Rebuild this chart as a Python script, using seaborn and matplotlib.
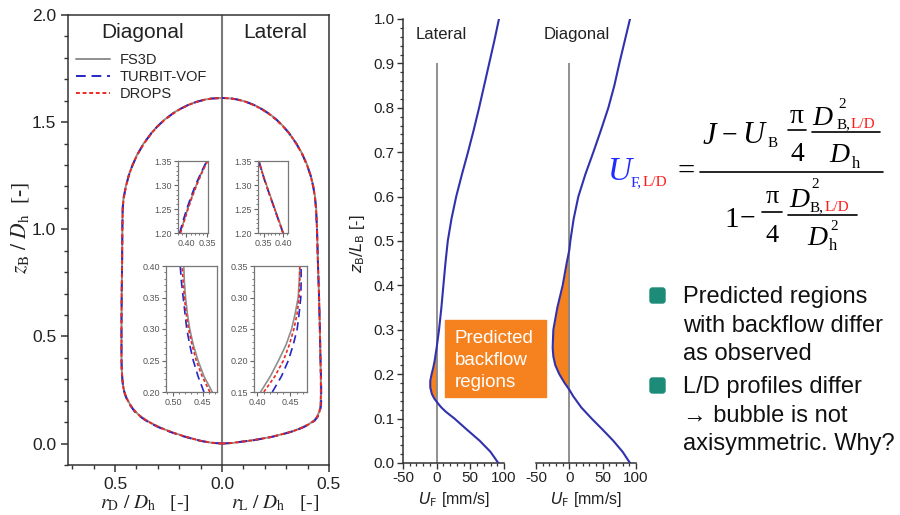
import matplotlib
matplotlib.use("Agg")
import numpy as np
import pandas as pd
import matplotlib.pyplot as plt
import matplotlib.transforms as mtransforms
from matplotlib.patches import Rectangle, FancyBboxPatch
from matplotlib.lines import Line2D
from matplotlib.ticker import MultipleLocator, FixedLocator, FuncFormatter
import seaborn as sns

# ---------------- data ----------------
model_names = ["FS3D", "TURBIT-VOF", "DROPS"]

# bubble contour, diagonal plane: z_B/D_h and r_D/D_h
diag_z = [0.000, 0.004, 0.012, 0.022, 0.035, 0.050, 0.065, 0.080, 0.095, 0.110,
          0.130, 0.150, 0.175, 0.200, 0.230, 0.260, 0.300, 0.350, 0.400, 0.550,
          0.700, 0.850, 1.000, 1.100, 1.150, 1.200, 1.250, 1.300, 1.350, 1.400,
          1.450, 1.480, 1.510, 1.540, 1.560, 1.580, 1.595, 1.605, 1.610, 1.613]
diag_r_fs3d = [0.000, 0.050, 0.095, 0.134, 0.180, 0.225, 0.266, 0.300, 0.330, 0.356,
               0.385, 0.406, 0.425, 0.440, 0.453, 0.461, 0.466, 0.469, 0.470, 0.470,
               0.469, 0.467, 0.466, 0.465, 0.460, 0.450, 0.437, 0.419, 0.396, 0.367,
               0.330, 0.303, 0.271, 0.232, 0.200, 0.160, 0.120, 0.082, 0.052, 0.000]
diag_r_turbit = [0.000, 0.052, 0.098, 0.138, 0.185, 0.230, 0.271, 0.305, 0.335, 0.360,
                 0.388, 0.409, 0.427, 0.442, 0.454, 0.462, 0.466, 0.469, 0.470, 0.470,
                 0.469, 0.467, 0.466, 0.464, 0.459, 0.449, 0.436, 0.418, 0.395, 0.366,
                 0.329, 0.302, 0.270, 0.230, 0.198, 0.158, 0.118, 0.080, 0.050, 0.000]
diag_r_drops = [0.000, 0.050, 0.096, 0.135, 0.181, 0.226, 0.267, 0.301, 0.331, 0.357,
                0.385, 0.406, 0.425, 0.440, 0.453, 0.461, 0.466, 0.469, 0.470, 0.470,
                0.469, 0.467, 0.466, 0.464, 0.459, 0.449, 0.436, 0.418, 0.395, 0.365,
                0.328, 0.301, 0.269, 0.229, 0.197, 0.157, 0.117, 0.079, 0.049, 0.000]

# bubble contour, lateral plane: z_B/D_h and r_L/D_h
lat_z = [0.000, 0.003, 0.008, 0.015, 0.022, 0.030, 0.040, 0.050, 0.061, 0.075,
         0.090, 0.107, 0.125, 0.150, 0.180, 0.220, 0.300, 0.400, 0.550, 0.700,
         0.850, 1.000, 1.100, 1.150, 1.200, 1.250, 1.300, 1.350, 1.400, 1.450,
         1.480, 1.510, 1.540, 1.560, 1.580, 1.595, 1.605, 1.610, 1.613]
lat_r_fs3d = [0.000, 0.050, 0.084, 0.140, 0.180, 0.224, 0.266, 0.303, 0.340, 0.374,
              0.405, 0.430, 0.444, 0.455, 0.460, 0.462, 0.462, 0.460, 0.457, 0.453,
              0.448, 0.444, 0.440, 0.435, 0.427, 0.415, 0.398, 0.376, 0.348, 0.313,
              0.287, 0.257, 0.220, 0.189, 0.151, 0.113, 0.076, 0.048, 0.000]
lat_r_turbit = [0.000, 0.052, 0.087, 0.144, 0.184, 0.228, 0.270, 0.307, 0.344, 0.378,
                0.408, 0.433, 0.447, 0.458, 0.463, 0.464, 0.463, 0.460, 0.457, 0.453,
                0.448, 0.444, 0.439, 0.434, 0.426, 0.414, 0.397, 0.375, 0.347, 0.312,
                0.286, 0.256, 0.218, 0.187, 0.149, 0.111, 0.074, 0.046, 0.000]
lat_r_drops = [0.000, 0.050, 0.085, 0.141, 0.181, 0.225, 0.267, 0.304, 0.341, 0.375,
               0.406, 0.431, 0.445, 0.456, 0.461, 0.462, 0.462, 0.460, 0.457, 0.453,
               0.448, 0.444, 0.439, 0.434, 0.426, 0.414, 0.397, 0.375, 0.347, 0.312,
               0.285, 0.255, 0.217, 0.186, 0.148, 0.110, 0.073, 0.045, 0.000]

# zoomed insets (nose region and tail region)
nose_z = [1.200, 1.225, 1.250, 1.275, 1.300, 1.325, 1.350]
nose_diag = {"FS3D": [0.415, 0.406, 0.397, 0.387, 0.376, 0.364, 0.350],
             "TURBIT-VOF": [0.416, 0.408, 0.399, 0.389, 0.378, 0.365, 0.351],
             "DROPS": [0.414, 0.405, 0.396, 0.386, 0.375, 0.363, 0.349]}
nose_lat = {"FS3D": [0.401, 0.390, 0.379, 0.368, 0.357, 0.347, 0.338],
            "TURBIT-VOF": [0.400, 0.389, 0.378, 0.367, 0.356, 0.346, 0.337],
            "DROPS": [0.400, 0.389, 0.378, 0.367, 0.357, 0.346, 0.337]}
tail_diag_z = [0.200, 0.225, 0.250, 0.275, 0.300, 0.325, 0.350, 0.375, 0.400]
tail_diag = {"FS3D": [0.434, 0.448, 0.458, 0.466, 0.472, 0.476, 0.479, 0.481, 0.482],
             "TURBIT-VOF": [0.448, 0.458, 0.466, 0.472, 0.477, 0.480, 0.483, 0.486, 0.488],
             "DROPS": [0.438, 0.451, 0.461, 0.468, 0.474, 0.478, 0.481, 0.483, 0.485]}
tail_lat_z = [0.150, 0.175, 0.200, 0.225, 0.250, 0.275, 0.300, 0.325, 0.350]
tail_lat = {"FS3D": [0.405, 0.420, 0.4325, 0.444, 0.4525, 0.458, 0.4625, 0.464, 0.465],
            "TURBIT-VOF": [0.423, 0.437, 0.4475, 0.455, 0.461, 0.464, 0.4665, 0.467, 0.467],
            "DROPS": [0.410, 0.427, 0.440, 0.449, 0.456, 0.461, 0.464, 0.465, 0.465]}

# film velocity profiles: z_B/L_B and U_F [mm/s]
lat_prof_z = [0.000, 0.025, 0.050, 0.075, 0.100, 0.115, 0.125, 0.135, 0.145, 0.155,
              0.170, 0.185, 0.200, 0.215, 0.230, 0.260, 0.300, 0.350, 0.400, 0.450,
              0.500, 0.550, 0.600, 0.650, 0.700, 0.750, 0.800, 0.850, 0.900, 0.950, 1.000]
lat_prof_uf = [91.5, 80.0, 64.0, 45.0, 26.5, 14.0, 7.0, 1.5, -3.5, -7.0,
               -9.5, -9.5, -7.5, -5.0, -3.0, 0.0, 3.5, 7.0, 10.0, 13.0,
               16.5, 22.0, 29.0, 37.5, 46.5, 55.0, 63.0, 70.5, 78.0, 85.5, 92.5]
diag_prof_z = [0.000, 0.025, 0.050, 0.075, 0.100, 0.125, 0.150, 0.165, 0.180, 0.200,
               0.220, 0.240, 0.260, 0.300, 0.350, 0.400, 0.450, 0.480, 0.500, 0.550,
               0.600, 0.650, 0.700, 0.750, 0.800, 0.850, 0.900, 0.950, 1.000]
diag_prof_uf = [91.0, 80.0, 66.0, 50.0, 33.5, 18.0, 6.0, 0.0, -7.0, -15.0,
                -21.0, -24.0, -25.0, -24.0, -18.0, -10.0, -4.0, 0.0, 1.5, 6.5,
                13.5, 24.0, 36.0, 47.5, 58.5, 67.5, 75.0, 83.0, 91.0]

bullet_lines = [["Predicted regions", "with backflow differ", "as observed"],
                ["L/D profiles differ", "\u2192 bubble is not", "axisymmetric. Why?"]]

# ---------------- style ----------------
sns.set_style("ticks")
plt.rcParams["font.family"] = ["Liberation Sans", "DejaVu Sans"]
plt.rcParams["axes.unicode_minus"] = False

colors = {"FS3D": "#8f8f8f", "TURBIT-VOF": "#2626c4", "DROPS": "#ea2a22"}
styles = {"FS3D": "-", "TURBIT-VOF": (0, (5, 3)), "DROPS": (0, (2, 1.4))}
profile_color = "#3131ae"
orange = "#f5821f"
teal = "#1c8b78"
frame = "#333333"

W, H = 900, 515
fig = plt.figure(figsize=(W / 100, H / 100), dpi=100)
fig.patch.set_facecolor("white")
# transform in picture pixels, origin top left
pix = mtransforms.Affine2D().scale(0.01, -0.01).translate(0, H / 100) + fig.dpi_scale_trans


def px_axes(x0, y0, x1, y1):
    return fig.add_axes([x0 / W, 1 - y1 / H, (x1 - x0) / W, (y1 - y0) / H])


def style_spines(ax, color=frame, lw=1.1):
    for s in ax.spines.values():
        s.set_color(color)
        s.set_linewidth(lw)


# ---------------- left: bubble shape ----------------
rows = []
side_data = {"FS3D": (diag_r_fs3d, lat_r_fs3d),
             "TURBIT-VOF": (diag_r_turbit, lat_r_turbit),
             "DROPS": (diag_r_drops, lat_r_drops)}
for m in model_names:
    dr, lr = side_data[m]
    for z, r in zip(diag_z, dr):
        rows.append({"model": m, "side": "diag", "x": -r, "z": z})
    for z, r in zip(lat_z, lr):
        rows.append({"model": m, "side": "lat", "x": r, "z": z})
shape = pd.DataFrame(rows)

ax = px_axes(68, 15, 329, 465)
ax.axvline(0, color="#7a7a7a", lw=1.5, zorder=1)
for m in model_names:
    sns.lineplot(data=shape[shape["model"] == m], x="x", y="z", units="side",
                 estimator=None, sort=False, color=colors[m], linestyle=styles[m],
                 lw=1.4, ax=ax, zorder=3)
ax.set_xlim(-0.72, 0.5)
ax.set_ylim(-0.1, 2.0)
ax.xaxis.set_major_locator(FixedLocator([-0.5, 0.0, 0.5]))
ax.xaxis.set_minor_locator(MultipleLocator(0.1))
ax.yaxis.set_major_locator(MultipleLocator(0.5))
ax.yaxis.set_minor_locator(MultipleLocator(0.1))
ax.xaxis.set_major_formatter(FuncFormatter(lambda v, p: f"{abs(v):.1f}"))
ax.yaxis.set_major_formatter(FuncFormatter(lambda v, p: f"{v:.1f}"))
ax.tick_params(which="major", length=5, width=1.1, color=frame, labelsize=12.5, labelcolor="#222")
ax.tick_params(which="minor", length=3, width=1.0, color=frame)
ax.set_xlabel("")
ax.set_ylabel(r"$z_\mathrm{B}\ /\ D_\mathrm{h}$  [-]", fontsize=15.5, family="Liberation Serif",
              math_fontfamily="stix", color="#222")
ax.yaxis.set_label_coords(-0.14, 0.526)
style_spines(ax)
ax.text(143, 33, "Diagonal", transform=pix, ha="center", va="center", fontsize=15, color="#222")
ax.text(275, 33, "Lateral", transform=pix, ha="center", va="center", fontsize=15, color="#222")

handles = [Line2D([], [], color=colors[m], linestyle=styles[m], lw=1.4) for m in model_names]
ax.legend(handles, model_names, loc="upper left", bbox_to_anchor=(76, 53), bbox_transform=pix,
          frameon=False, fontsize=10.5, handlelength=2.3, handletextpad=0.7, labelspacing=0.2,
          borderaxespad=0, borderpad=0)

fig.text(145, 503, r"$r_\mathrm{D}\ /\ D_\mathrm{h}$   [-]", transform=pix, ha="center",
         va="center", fontsize=14, family="Liberation Serif", math_fontfamily="stix", color="#222")
fig.text(275, 503, r"$r_\mathrm{L}\ /\ D_\mathrm{h}$   [-]", transform=pix, ha="center",
         va="center", fontsize=14, family="Liberation Serif", math_fontfamily="stix", color="#222")


def inset(box, zs, data, xlim, ylim, xticks, yticks):
    ia = px_axes(*box)
    for m in model_names:
        sns.lineplot(x=data[m], y=zs, sort=False, estimator=None, color=colors[m],
                     linestyle=styles[m], lw=1.2, ax=ia)
    ia.set_xlim(*xlim)
    ia.set_ylim(*ylim)
    ia.xaxis.set_major_locator(FixedLocator(xticks))
    ia.yaxis.set_major_locator(FixedLocator(yticks))
    ia.xaxis.set_minor_locator(MultipleLocator(0.01))
    ia.yaxis.set_minor_locator(MultipleLocator(0.01))
    ia.xaxis.set_major_formatter(FuncFormatter(lambda v, p: f"{v:.2f}"))
    ia.yaxis.set_major_formatter(FuncFormatter(lambda v, p: f"{v:.2f}"))
    ia.tick_params(which="major", length=3, width=0.8, color="#666", labelsize=6.5,
                   labelcolor="#555", pad=1.5)
    ia.tick_params(which="minor", length=1.6, width=0.6, color="#666")
    ia.set_xlabel("")
    ia.set_ylabel("")
    style_spines(ia, "#777", 0.9)
    return ia


inset((178, 161, 208, 233), nose_z, nose_diag, (0.42, 0.348), (1.20, 1.35),
      [0.40, 0.35], [1.20, 1.25, 1.30, 1.35])
inset((258, 161, 288, 233), nose_z, nose_lat, (0.335, 0.413), (1.20, 1.35),
      [0.35, 0.40], [1.20, 1.25, 1.30, 1.35])
inset((166, 266, 217, 392), tail_diag_z, tail_diag, (0.512, 0.426), (0.20, 0.40),
      [0.50, 0.45], [0.20, 0.25, 0.30, 0.35, 0.40])
inset((254, 266, 307, 392), tail_lat_z, tail_lat, (0.395, 0.476), (0.15, 0.35),
      [0.40, 0.45], [0.15, 0.20, 0.25, 0.30, 0.35])

# ---------------- middle: film velocity ----------------
axL = px_axes(403, 19, 504, 463)
axR = px_axes(536, 19, 636, 463)
profiles = [(axL, lat_prof_z, lat_prof_uf, "Lateral", 7),
            (axR, diag_prof_z, diag_prof_uf, "Diagonal", 11.5)]
for a, zs, uf, name, tx in profiles:
    zs_a = np.array(zs)
    uf_a = np.array(uf)
    a.fill_betweenx(zs_a, uf_a, 0, where=uf_a <= 0, interpolate=True, color=orange, lw=0, zorder=1)
    a.vlines(0, 0, 0.9, color="#888888", lw=1.3, zorder=2)
    sns.lineplot(x=uf, y=zs, sort=False, estimator=None, color=profile_color, lw=1.5, ax=a,
                 zorder=3)
    a.set_xlim(-50, 100)
    a.set_ylim(0, 1.0)
    a.xaxis.set_major_locator(MultipleLocator(50))
    a.xaxis.set_minor_locator(MultipleLocator(10))
    a.tick_params(which="major", length=4, width=1.0, color=frame, labelsize=11,
                  labelcolor="#222", pad=2)
    a.tick_params(which="minor", length=2.2, width=0.9, color=frame)
    a.set_ylabel("")
    a.set_xlabel(r"$U_\mathrm{F}$ [mm/s]", fontsize=11.5, math_fontfamily="dejavusans",
                 color="#222")
    a.xaxis.set_label_coords(0.5, -0.06)
    a.spines["top"].set_visible(False)
    a.spines["right"].set_visible(False)
    style_spines(a)
    a.text(tx, 0.965, name, ha="center", va="center", fontsize=12, color="#222")

axL.yaxis.set_major_locator(MultipleLocator(0.1))
axL.yaxis.set_minor_locator(MultipleLocator(0.02))
axL.yaxis.set_major_formatter(FuncFormatter(lambda v, p: f"{v:.1f}"))
axL.set_ylabel(r"$z_\mathrm{B}/L_\mathrm{B}$ [-]", fontsize=11.5, math_fontfamily="dejavusans",
               color="#222")
axL.yaxis.set_label_coords(-0.36, 0.495)
axR.spines["left"].set_visible(False)
axR.tick_params(axis="y", which="both", left=False, labelleft=False)

# orange note box
fig.add_artist(Rectangle((445, 320), 101, 77, transform=pix, color=orange, zorder=5))
for line, base in zip(["Predicted", "backflow", "regions"], [343, 365, 387]):
    fig.text(455, base, line, transform=pix, ha="left", va="baseline", fontsize=13.5,
             color="white", zorder=6)

# ---------------- formula ----------------
blue = "#1f2bff"
red = "#ff1a1a"


def ft(x, y, s, size, color="black", italic=False, ha="left"):
    fig.text(x, y, s, transform=pix, fontsize=size, color=color,
             fontstyle="italic" if italic else "normal", family="Liberation Serif",
             ha=ha, va="baseline")


def bar(x0, x1, y):
    fig.add_artist(Line2D([x0, x1], [y, y], transform=pix, color="black", lw=1.2))


ft(608, 180, "U", 24, blue, True)
ft(631, 186, "F,", 11, blue)
ft(643, 186, "L/D", 11, red)
ft(686, 180, "=", 22, ha="center")
bar(700, 883, 172)
# numerator
ft(703, 144, "J", 22, italic=True)
ft(722, 143, "\u2212", 20)
ft(742, 143, "U", 22, italic=True)
ft(768, 147, "B", 11)
ft(797, 123, "\u03c0", 20, ha="center")
bar(788, 806, 130)
ft(797, 161, "4", 20, ha="center")
ft(812, 125, "D", 20, italic=True)
ft(838, 108, "2", 11)
ft(837, 128, "B,", 11)
ft(851, 128, "L/D", 11, red)
bar(812, 880, 132)
ft(829, 162, "D", 20, italic=True)
ft(852, 168, "h", 12)
# denominator
ft(724, 227, "1", 21)
ft(740, 226, "\u2212", 20)
ft(772, 203, "\u03c0", 19, ha="center")
bar(762, 782, 212)
ft(772, 242, "4", 19, ha="center")
ft(789, 207, "D", 20, italic=True)
ft(811, 188, "2", 11)
ft(810, 211, "B,", 11)
ft(825, 211, "L/D", 11, red)
bar(788, 857, 215)
ft(807, 245, "D", 20, italic=True)
ft(830, 230, "2", 11)
ft(829, 250, "h", 12)

# ---------------- bullets ----------------
for (y0, lines) in zip([288, 378], bullet_lines):
    fig.add_artist(FancyBboxPatch((650, y0), 15, 15, boxstyle="round,pad=0,rounding_size=2.5",
                                  transform=pix, color=teal, zorder=5))
    for k, line in enumerate(lines):
        fig.text(683, y0 + 15 + 28.5 * k, line, transform=pix, ha="left", va="baseline",
                 fontsize=17, color="#111", family=["Liberation Sans", "DejaVu Sans"])

fig.savefig("out.png", dpi=100)
